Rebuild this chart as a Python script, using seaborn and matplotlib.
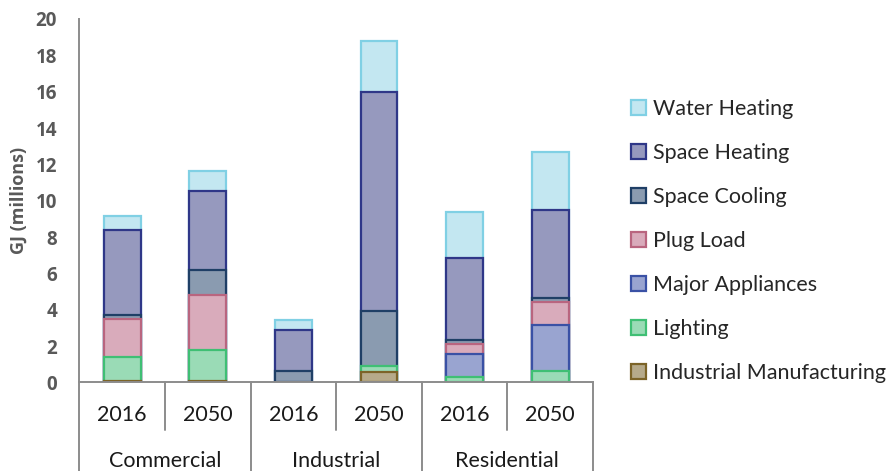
import matplotlib
matplotlib.use("Agg")
import matplotlib.pyplot as plt
from matplotlib.patches import Patch
from matplotlib.transforms import blended_transform_factory
import pandas as pd
import seaborn as sns

# Sectors and scenario years (one stacked bar per pair)
sectors = ["Commercial", "Commercial", "Industrial", "Industrial", "Residential", "Residential"]
years = ["2016", "2050", "2016", "2050", "2016", "2050"]

# Energy use by end use, GJ (millions), stacked from bottom to top
industrial_manufacturing = [0.10, 0.10, 0.00, 0.60, 0.00, 0.00]
lighting = [1.33, 1.71, 0.00, 0.30, 0.32, 0.63]
major_appliances = [0.00, 0.00, 0.00, 0.00, 1.26, 2.54]
plug_load = [2.09, 3.03, 0.00, 0.00, 0.55, 1.24]
space_cooling = [0.22, 1.37, 0.66, 3.06, 0.23, 0.24]
space_heating = [4.67, 4.34, 2.24, 12.00, 4.47, 4.84]
water_heating = [0.73, 1.10, 0.54, 2.84, 2.57, 3.20]

layers = [
    ("Industrial Manufacturing", industrial_manufacturing, "#b6aa8a", "#7c6428"),
    ("Lighting", lighting, "#9adbb6", "#3fbf74"),
    ("Major Appliances", major_appliances, "#99a4d0", "#3a51a5"),
    ("Plug Load", plug_load, "#d9abbb", "#b9657f"),
    ("Space Cooling", space_cooling, "#8a9bb0", "#1f3f66"),
    ("Space Heating", space_heating, "#9699be", "#2f3788"),
    ("Water Heating", water_heating, "#c3e7f1", "#80d0e4"),
]

y_ticks = [0, 2, 4, 6, 8, 10, 12, 14, 16, 18, 20]

sns.set_theme(style="white")
plt.rcParams["font.family"] = ["Lato", "DejaVu Sans"]

fig = plt.figure(figsize=(8.96, 4.71), dpi=100)
ax = fig.add_axes([0.0885, 0.1879, 0.5733, 0.7718])

bar_keys = [f"{s} {y}" for s, y in zip(sectors, years)]

# running totals for each layer
cumulative = []
running = [0.0] * len(bar_keys)
for name, vals, face, edge in layers:
    running = [r + v for r, v in zip(running, vals)]
    cumulative.append(list(running))

# draw the tallest totals first so lower layers sit on top of them
for (name, vals, face, edge), totals in reversed(list(zip(layers, cumulative))):
    df = pd.DataFrame({"bar": bar_keys, "total": totals, "value": vals})
    df = df[df["value"] > 0]
    sns.barplot(data=df, x="bar", y="total", order=bar_keys, ax=ax,
                color=face, edgecolor=edge, linewidth=1.6, width=0.43,
                saturation=1, errorbar=None)

ax.set_xlim(-0.5, len(bar_keys) - 0.5)
ax.set_ylim(0, 20)
ax.set_yticks(y_ticks)
ax.set_yticklabels([str(t) for t in y_ticks], fontsize=13.5, fontweight="bold",
                   color="#595959", family=["Open Sans", "DejaVu Sans"])
ax.tick_params(axis="y", length=0, pad=16)
ax.set_xticks([])
ax.set_xlabel("")
ax.set_ylabel("GJ (millions)", fontsize=13, fontweight="bold", color="#595959",
              family=["Open Sans", "DejaVu Sans"], labelpad=6)

for side in ["top", "right"]:
    ax.spines[side].set_visible(False)
for side in ["left", "bottom"]:
    ax.spines[side].set_color("#8c8c8c")
    ax.spines[side].set_linewidth(1.4)

# two-level category axis below the bars
trans = blended_transform_factory(ax.transData, fig.transFigure)
y_axis_fig = 0.1879
for x in [0.5, 2.5, 4.5]:
    ax.plot([x, x], [y_axis_fig, 0.087], transform=trans, color="#8c8c8c",
            lw=1.4, clip_on=False)
for x in [-0.5, 1.5, 3.5, 5.5]:
    ax.plot([x, x], [y_axis_fig, 0.0], transform=trans, color="#8c8c8c",
            lw=1.4, clip_on=False)
for i, yr in enumerate(years):
    ax.text(i, 0.119, yr, transform=trans, ha="center", va="center",
            fontsize=15.5, color="#1a1a1a")
for i in range(0, len(sectors), 2):
    ax.text(i + 0.5, 0.022, sectors[i], transform=trans, ha="center", va="center",
            fontsize=15.5, color="#1a1a1a")

handles = [Patch(facecolor=face, edgecolor=edge, linewidth=1.6, label=name)
           for name, vals, face, edge in reversed(layers)]
fig.legend(handles=handles, loc="center left", bbox_to_anchor=(0.695, 0.488),
           frameon=False, fontsize=15.5, handlelength=0.7, handleheight=0.7,
           handletextpad=0.3, labelspacing=1.12, borderaxespad=0)

fig.savefig("out.png", dpi=100)
